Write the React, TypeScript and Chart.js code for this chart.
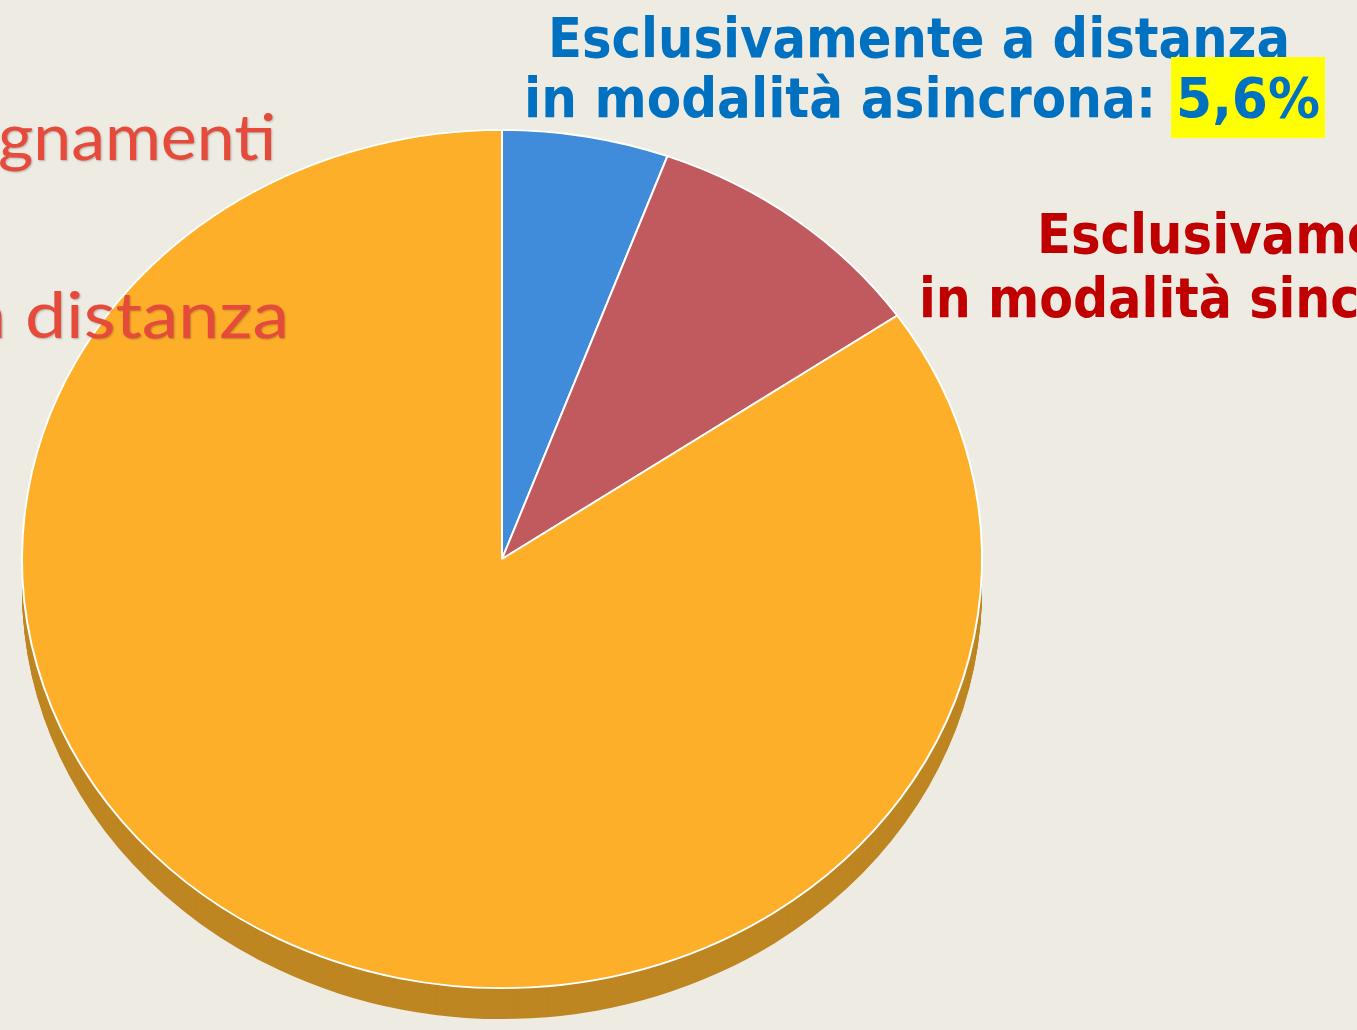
import React, { useEffect, useRef } from "react";
import { Chart, registerables } from "chart.js";

Chart.register(...registerables);

const categories = [
  "Esclusivamente a distanza in modalità asincrona",
  "Esclusivamente a distanza in modalità sincrona",
  "Insegnamenti misti (in presenza e a distanza)",
];
const shares = [5.6, 9.8, 84.6];
const sliceColors = ["#418BDB", "#C05A5E", "#FEAF2A"];
const sideColors = ["#2F6CAE", "#94403F", "#BE8622"];
const blueLabel = ["Esclusivamente a distanza", "in modalità asincrona: ", "5,6%"];
const redLabel = ["Esclusivamente a distanza", "in modalità sincrona: 9,8%"];
const leftLabel = ["Insegnamenti", "a distanza"];

const W = 1357;
const H = 1030;
const CENTER_Y = 559;
const SCALE_Y = 0.894;
const DEPTH = 31;

const tiltPlugin = {
  id: "tilt3d",
  beforeDatasetsDraw(chart: any) {
    const ctx = chart.ctx;
    const meta = chart.getDatasetMeta(0);
    const first = meta.data[0];
    if (!first) return;
    const cy = first.y;
    const apply = (dy: number) => {
      ctx.translate(0, CENTER_Y + dy);
      ctx.scale(1, SCALE_Y);
      ctx.translate(0, -cy);
    };
    for (let d = DEPTH; d > 0; d -= 1) {
      meta.data.forEach((arc: any, i: number) => {
        ctx.save();
        apply(d);
        const orig = arc.options;
        arc.options = Object.assign({}, orig, {
          backgroundColor: sideColors[i],
          borderColor: sideColors[i],
          borderWidth: 0,
        });
        arc.draw(ctx);
        arc.options = orig;
        ctx.restore();
      });
    }
    ctx.save();
    apply(0);
  },
  afterDatasetsDraw(chart: any) {
    chart.ctx.restore();
  },
};

function drawFitted(
  ctx: CanvasRenderingContext2D,
  text: string,
  x: number,
  y: number,
  ref: string,
  refWidth: number
) {
  const sx = refWidth / ctx.measureText(ref).width;
  ctx.save();
  ctx.translate(x, y);
  ctx.scale(sx, 1);
  ctx.fillText(text, 0, 0);
  ctx.restore();
}

function drawRightFitted(
  ctx: CanvasRenderingContext2D,
  text: string,
  right: number,
  y: number,
  ref: string,
  refWidth: number
) {
  const sx = refWidth / ctx.measureText(ref).width;
  const full = ctx.measureText(text).width * sx;
  drawFitted(ctx, text, right - full, y, ref, refWidth);
}

const labelsPlugin = {
  id: "sideLabels",
  afterDraw(chart: any) {
    const ctx: CanvasRenderingContext2D = chart.ctx;
    ctx.save();
    ctx.textBaseline = "alphabetic";
    ctx.textAlign = "left";

    // Blue label (asincrona)
    ctx.font = "bold 55px 'DejaVu Sans'";
    ctx.fillStyle = "#0070C0";
    drawFitted(ctx, blueLabel[0], 548, 57, blueLabel[0], 742);
    drawFitted(ctx, blueLabel[1], 524, 117, "in modalità asincrona:", 632);
    ctx.fillStyle = "#FFFF00";
    ctx.fillRect(1171, 57, 154, 81);
    ctx.fillStyle = "#0070C0";
    drawFitted(ctx, blueLabel[2], 1176, 117, blueLabel[2], 144);

    // Red label (sincrona), clipped at right edge
    ctx.fillStyle = "#C00000";
    drawFitted(ctx, redLabel[0], 1037, 253, "Esclusivam", 310);
    drawFitted(ctx, redLabel[1], 919, 317, "in modalità", 313);

    // Left label (handwritten style), clipped at left edge
    ctx.font = "400 64px Lato";
    ctx.fillStyle = "#E64A3A";
    ctx.shadowColor = "rgba(0,0,0,0.25)";
    ctx.shadowBlur = 2;
    ctx.shadowOffsetX = 1;
    ctx.shadowOffsetY = 1;
    drawRightFitted(ctx, leftLabel[0], 276, 160, "gnamenti", 278);
    drawRightFitted(ctx, leftLabel[1], 289, 338, "distanza", 264);
    ctx.restore();
  },
};

export default function App() {
  const ref = useRef<HTMLCanvasElement | null>(null);
  useEffect(() => {
    if (!ref.current) return;
    const chart = new Chart(ref.current, {
      type: "pie",
      data: {
        labels: categories,
        datasets: [
          {
            data: shares,
            backgroundColor: sliceColors,
            borderColor: "#FFFFFF",
            borderWidth: 2,
            clip: false as any,
          },
        ],
      },
      options: {
        responsive: false,
        animation: false,
        layout: { padding: { left: 21, right: W - 21 - 962, top: 34, bottom: H - 34 - 962 } },
        plugins: {
          legend: { display: false },
          tooltip: { enabled: false },
        },
      },
      plugins: [tiltPlugin, labelsPlugin],
    });
    return () => chart.destroy();
  }, []);
  return (
    <div
      style={{
        position: "absolute",
        left: 0,
        top: 0,
        width: W,
        height: H,
        background: "#EEEBE3",
        overflow: "hidden",
      }}
    >
      <canvas ref={ref} width={W} height={H} style={{ display: "block" }} />
    </div>
  );
}
